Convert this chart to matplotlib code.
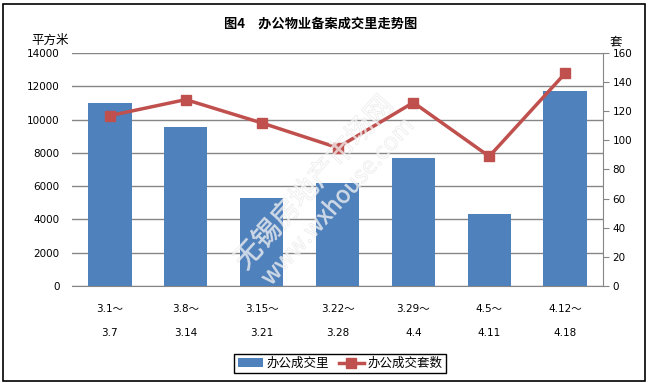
import matplotlib
matplotlib.use("Agg")
import matplotlib.pyplot as plt
import matplotlib.patheffects as pe
from matplotlib.patches import Rectangle

plt.rcParams["font.family"] = ["DejaVu Sans", "Noto Sans CJK SC"]

# -------------------------------
# data
# -------------------------------
weeks_start = ["3.1～", "3.8～", "3.15～", "3.22～", "3.29～", "4.5～", "4.12～"]
weeks_end = ["3.7", "3.14", "3.21", "3.28", "4.4", "4.11", "4.18"]
office_area = [11000, 9550, 5300, 6200, 7700, 4300, 11700]   # 平方米
office_units = [117, 128, 112, 95, 126, 89, 146]              # 套

BAR_COLOR = "#4F81BD"
LINE_COLOR = "#C0504D"
GRID_COLOR = "#868686"
CJK = ["Noto Sans CJK SC", "DejaVu Sans"]

fig = plt.figure(figsize=(6.48, 3.83), dpi=100)
ax = fig.add_axes([72 / 648, 1 - 286 / 383, (603 - 72) / 648, (286 - 53) / 383])

x = list(range(len(office_area)))
bars = ax.bar(x, office_area, width=0.57, color=BAR_COLOR, label="办公成交里", zorder=2)

ax.set_xlim(-0.5, len(x) - 0.5)
ax.set_ylim(0, 14000)
ax.set_yticks(range(0, 14001, 2000))
ax.yaxis.grid(True, color=GRID_COLOR, linewidth=1)
ax.set_axisbelow(True)
ax.tick_params(axis="y", length=0, pad=9, labelsize=7.5)

labels = [a + "\n" + b for a, b in zip(weeks_start, weeks_end)]
ax.set_xticks(x)
ax.set_xticklabels(labels, fontsize=7.5, linespacing=2.7)
ax.tick_params(axis="x", length=0, pad=13)

for side in ["top", "left", "right"]:
    ax.spines[side].set_visible(False)
ax.spines["bottom"].set_color(GRID_COLOR)

# -------------------------------
# second axis: units sold
# -------------------------------
ax2 = ax.twinx()
line, = ax2.plot(x, office_units, color=LINE_COLOR, linewidth=2.5, marker="s",
                 markersize=7.5, label="办公成交套数", zorder=3)
ax2.set_ylim(0, 160)
ax2.set_yticks(range(0, 161, 20))
ax2.tick_params(axis="y", length=4, color=GRID_COLOR, pad=3, labelsize=7.5)
for side in ["top", "left", "bottom"]:
    ax2.spines[side].set_visible(False)
ax2.spines["right"].set_color(GRID_COLOR)

# watermark (faint outlined text)
wm = [pe.Stroke(linewidth=0.6, foreground="#dadada", alpha=0.55), pe.Normal()]
fig.text(314 / 648, 1 - 183 / 383, "无锡房地产市场网", family=CJK, fontsize=20,
         fontweight="light", rotation=48, color="white", alpha=0.3,
         ha="center", va="center", path_effects=wm, zorder=5)
fig.text(338 / 648, 1 - 202 / 383, "www.wxhouse.com", family=CJK, fontsize=17,
         fontweight="light", rotation=48, color="white", alpha=0.3,
         ha="center", va="center", path_effects=wm, zorder=5)

# titles and units
fig.text(321 / 648, 1 - 24 / 383, "图4　办公物业备案成交里走势图", family=CJK,
         fontsize=9.5, fontweight="bold", ha="center", va="center")
fig.text(50 / 648, 1 - 40 / 383, "平方米", family=CJK, fontsize=9,
         ha="center", va="center")
fig.text(616 / 648, 1 - 42 / 383, "套", family=CJK, fontsize=9,
         ha="center", va="center")

fig.legend([bars, line], ["办公成交里", "办公成交套数"], loc="center",
           bbox_to_anchor=(340 / 648, 1 - 363.5 / 383), ncol=2, frameon=True,
           fancybox=False, edgecolor="black", framealpha=1,
           prop={"family": CJK, "size": 9}, handlelength=2.0,
           handletextpad=0.3, columnspacing=0.8, borderpad=0.25)

# chart border
fig.patches.append(Rectangle((2.5 / 648, 2.5 / 383), 642 / 648, 377 / 383,
                             transform=fig.transFigure, fill=False,
                             edgecolor="black", linewidth=1.2))

fig.savefig("out.png", dpi=100)
